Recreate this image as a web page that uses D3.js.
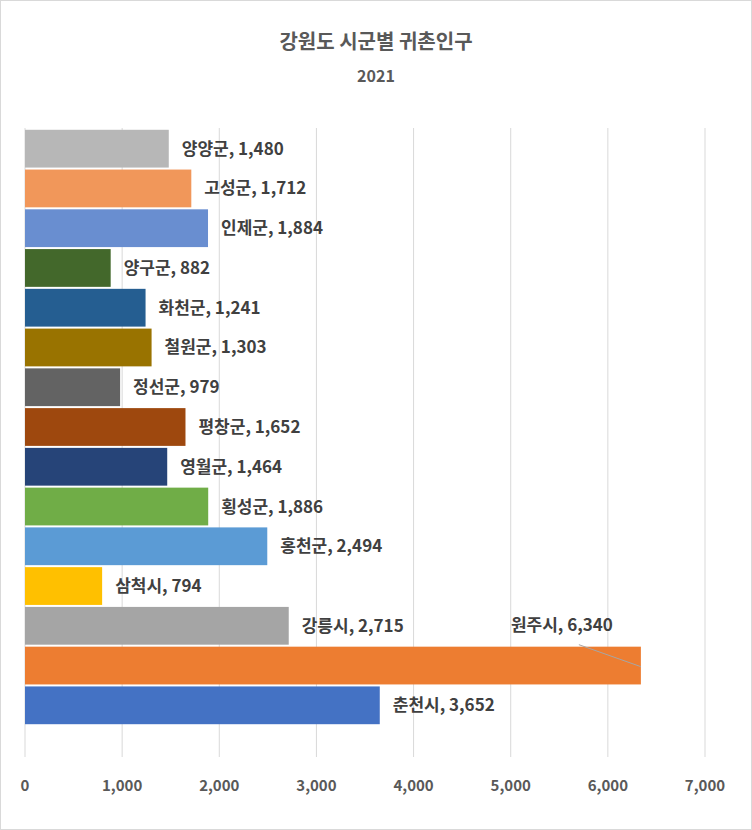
<!DOCTYPE html><html><head><meta charset="utf-8">
<script src="https://d3js.org/d3.v7.min.js"></script>
<style>body{margin:0;background:#fff}</style></head><body>
<script>
const categories=["양양군","고성군","인제군","양구군","화천군","철원군","정선군","평창군","영월군","횡성군","홍천군","삼척시","강릉시","원주시","춘천시"];
const values=[1480,1712,1884,882,1241,1303,979,1652,1464,1886,2494,794,2715,6340,3652];
const colors=["#B7B7B7","#F1975A","#698ED0","#43682B","#255E91","#997300","#636363","#9E480E","#264478","#70AD47","#5B9BD5","#FFC000","#A5A5A5","#ED7D31","#4472C4"];
const ticks=[0,1000,2000,3000,4000,5000,6000,7000];
const W=752,H=830,F="'Noto Sans CJK KR','Noto Sans',sans-serif";
const svg=d3.select("body").append("svg").attr("width",W).attr("height",H);
svg.append("rect").attr("x",0.5).attr("y",0.5).attr("width",W-1).attr("height",H-1).attr("fill","#fff").attr("stroke","#d9d9d9");
const x=d3.scaleLinear().domain([0,7000]).range([25,705]);
const y=d3.scaleBand().domain(categories).range([129,725]).paddingInner(0.05).paddingOuter(0.02);
svg.append("g").selectAll("line").data(ticks).join("line").attr("x1",d=>x(d)).attr("x2",d=>x(d)).attr("y1",128).attr("y2",757).attr("stroke","#d9d9d9");
svg.append("g").selectAll("text").data(ticks).join("text").attr("x",d=>x(d)).attr("y",791).attr("text-anchor","middle").attr("font-family",F).attr("font-weight","bold").attr("font-size",15).attr("fill","#595959").text(d3.format(","));
svg.append("g").selectAll("rect").data(categories).join("rect").attr("x",x(0)).attr("y",d=>y(d)).attr("height",y.bandwidth()).attr("width",(d,i)=>x(values[i])-x(0)).attr("fill",(d,i)=>colors[i]);
const lab=svg.append("g").attr("font-family",F).attr("font-weight","bold").attr("font-size",17).attr("fill","#404040");
categories.forEach((c,i)=>{
  const t=c+", "+d3.format(",")(values[i]);
  if(c==="원주시"){
    lab.append("text").attr("x",x(values[i])-130).attr("y",y(c)-16).text(t);
    svg.append("line").attr("x1",x(values[i])-62).attr("y1",y(c)-2).attr("x2",x(values[i])).attr("y2",y(c)+20).attr("stroke","#a6a6a6");
  } else lab.append("text").attr("x",x(values[i])+13).attr("y",y(c)+y.bandwidth()/2+6).text(t);
});
svg.append("text").attr("x",376).attr("y",49).attr("text-anchor","middle").attr("font-family",F).attr("font-weight","bold").attr("font-size",20).attr("fill","#595959").text("강원도 시군별 귀촌인구");
svg.append("text").attr("x",376).attr("y",82).attr("text-anchor","middle").attr("font-family",F).attr("font-weight","bold").attr("font-size",16).attr("fill","#595959").text("2021");
</script></body></html>
